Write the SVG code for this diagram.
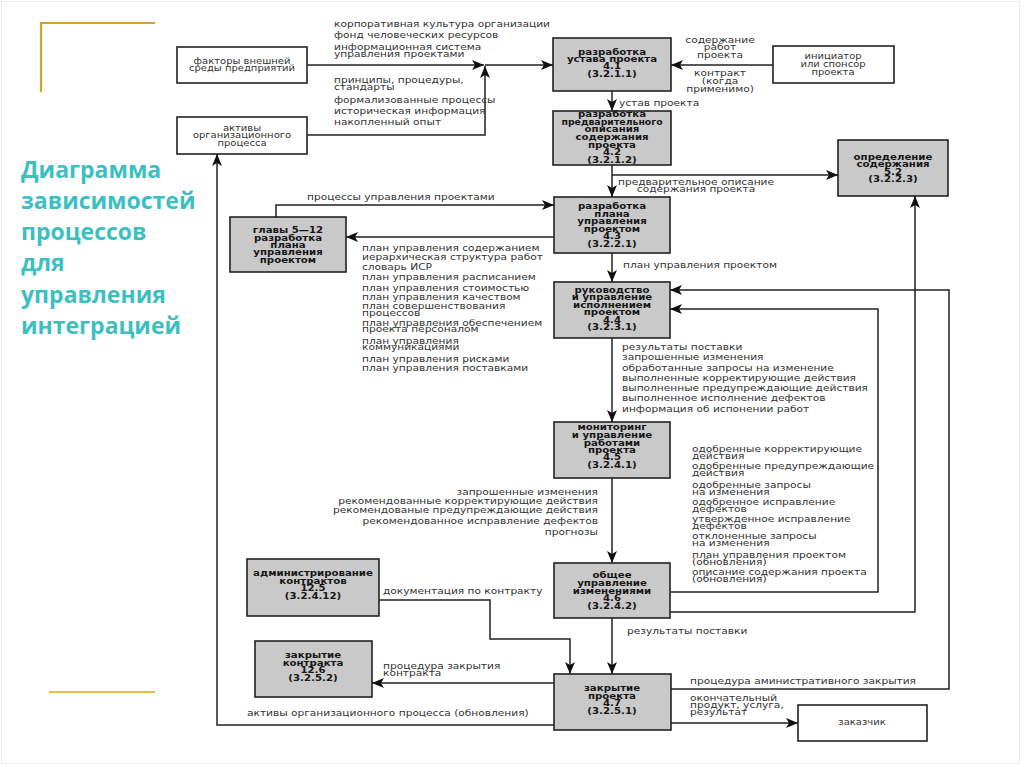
<svg xmlns="http://www.w3.org/2000/svg" width="1024" height="767" viewBox="0 0 1024 767">
<defs>
<marker id="ar" markerUnits="userSpaceOnUse" markerWidth="12" markerHeight="10" refX="12" refY="5" orient="auto">
<path d="M0,0 L12,5 L0,10 L3,5 z" fill="#111"/>
</marker>
<style>
.g rect{fill:#c9c9c9;stroke:#222;stroke-width:1.6}
.w rect{fill:#fff;stroke:#222;stroke-width:1.6}
.bt{font-family:"DejaVu Sans","Liberation Sans",sans-serif;font-weight:bold;font-size:8.5px;text-anchor:middle;fill:#161616}
.wt{font-family:"DejaVu Sans","Liberation Sans",sans-serif;font-size:8px;text-anchor:middle;fill:#333}
.lb{font-family:"DejaVu Sans","Liberation Sans",sans-serif;font-size:8.5px;fill:#333}
.lr{font-family:"DejaVu Sans","Liberation Sans",sans-serif;font-size:8.5px;fill:#333;text-anchor:end}
.lc{font-family:"DejaVu Sans","Liberation Sans",sans-serif;font-size:8.5px;fill:#333;text-anchor:middle}
#connectors path{fill:none;stroke:#222;stroke-width:1.5;marker-end:url(#ar)}
.title{font-family:"Open Sans","Liberation Sans",sans-serif;font-weight:bold;font-size:23px;fill:#3cbfc1}
</style>
</defs>
<rect x="0" y="0" width="1024" height="767" fill="#fff"/>
<rect x="1.5" y="1.5" width="1018" height="762" fill="none" stroke="#ececec" stroke-width="1"/>
<g id="decor">
<path d="M41,92 V23 H155" fill="none" stroke="#d6a12c" stroke-width="2.2"/>
<path d="M49,692 H155" fill="none" stroke="#e6bf3c" stroke-width="2.2"/>
</g>
<g id="title">
<text class="title" x="21" y="178">Диаграмма</text>
<text class="title" x="21" y="209">зависимостей</text>
<text class="title" x="21" y="240">процессов</text>
<text class="title" x="21" y="271">для</text>
<text class="title" x="21" y="303">управления</text>
<text class="title" x="21" y="334">интеграцией</text>
</g>
<g id="connectors">
<path d="M307,65 H484"/>
<path d="M485,65 H553"/>
<path d="M307,135 H485 V66"/>
<path d="M773,65 H671"/>
<path d="M612,91 V111"/>
<path d="M612,165 V197"/>
<path d="M612,175 H838"/>
<path d="M276,217 V205 H554"/>
<path d="M554,237 H346"/>
<path d="M612,253 V282"/>
<path d="M612,338 V422"/>
<path d="M671,689 H949 V290 H670"/>
<path d="M670,592 H878 V309 H670"/>
<path d="M670,612 H915 V196"/>
<path d="M612,478 V563"/>
<path d="M379,600 H490 V639 H570 V674"/>
<path d="M612,618 V674"/>
<path d="M554,683 H372"/>
<path d="M554,725 H217 V154"/>
<path d="M671,723 H798"/>
</g>
<g id="labels">
<text class="lb" transform="matrix(1.25 0 0 1 334 27)">корпоративная культура организации</text>
<text class="lb" transform="matrix(1.25 0 0 1 334 38)">фонд человеческих ресурсов</text>
<text class="lb" transform="matrix(1.25 0 0 1 334 50)">информационная система</text>
<text class="lb" transform="matrix(1.25 0 0 1 334 57)">управления проектами</text>
<text class="lb" transform="matrix(1.25 0 0 1 334 83)">принципы, процедуры,</text>
<text class="lb" transform="matrix(1.25 0 0 1 334 90)">стандарты</text>
<text class="lb" transform="matrix(1.25 0 0 1 334 103)">формализованные процессы</text>
<text class="lb" transform="matrix(1.25 0 0 1 334 114)">историческая информация</text>
<text class="lb" transform="matrix(1.25 0 0 1 334 125)">накопленный опыт</text>
<text class="lc" transform="matrix(1.25 0 0 1 720 43)">содержание</text>
<text class="lc" transform="matrix(1.25 0 0 1 720 50)">работ</text>
<text class="lc" transform="matrix(1.25 0 0 1 720 58)">проекта</text>
<text class="lc" transform="matrix(1.25 0 0 1 720 76)">контракт</text>
<text class="lc" transform="matrix(1.25 0 0 1 720 84)">(когда</text>
<text class="lc" transform="matrix(1.25 0 0 1 720 92)">применимо)</text>
<text class="lb" transform="matrix(1.25 0 0 1 619 106)">устав проекта</text>
<text class="lc" transform="matrix(1.25 0 0 1 696 185)">предварительное описание</text>
<text class="lc" transform="matrix(1.25 0 0 1 696 192)">содержания проекта</text>
<text class="lb" transform="matrix(1.25 0 0 1 307 200)">процессы управления проектами</text>
<text class="lb" transform="matrix(1.25 0 0 1 362 251)">план управления содержанием</text>
<text class="lb" transform="matrix(1.25 0 0 1 362 260)">иерархическая структура работ</text>
<text class="lb" transform="matrix(1.25 0 0 1 362 270)">словарь ИСР</text>
<text class="lb" transform="matrix(1.25 0 0 1 362 280)">план управления расписанием</text>
<text class="lb" transform="matrix(1.25 0 0 1 362 291)">план управления стоимостью</text>
<text class="lb" transform="matrix(1.25 0 0 1 362 300)">план управления качеством</text>
<text class="lb" transform="matrix(1.25 0 0 1 362 309)">план совершенствования</text>
<text class="lb" transform="matrix(1.25 0 0 1 362 316)">процессов</text>
<text class="lb" transform="matrix(1.25 0 0 1 362 326)">план управления обеспечением</text>
<text class="lb" transform="matrix(1.25 0 0 1 362 332)">проекта персоналом</text>
<text class="lb" transform="matrix(1.25 0 0 1 362 344)">план управления</text>
<text class="lb" transform="matrix(1.25 0 0 1 362 350)">коммуникациями</text>
<text class="lb" transform="matrix(1.25 0 0 1 362 362)">план управления рисками</text>
<text class="lb" transform="matrix(1.25 0 0 1 362 371)">план управления поставками</text>
<text class="lb" transform="matrix(1.25 0 0 1 623 268)">план управления проектом</text>
<text class="lb" transform="matrix(1.25 0 0 1 622 350)">результаты поставки</text>
<text class="lb" transform="matrix(1.25 0 0 1 622 360)">запрошенные изменения</text>
<text class="lb" transform="matrix(1.25 0 0 1 622 371)">обработанные запросы на изменение</text>
<text class="lb" transform="matrix(1.25 0 0 1 622 381)">выполненные корректирующие действия</text>
<text class="lb" transform="matrix(1.25 0 0 1 622 391)">выполненные предупреждающие действия</text>
<text class="lb" transform="matrix(1.25 0 0 1 622 401)">выполненное исполнение дефектов</text>
<text class="lb" transform="matrix(1.25 0 0 1 622 412)">информация об испонении работ</text>
<text class="lb" transform="matrix(1.25 0 0 1 692 452)">одобренные корректирующие</text>
<text class="lb" transform="matrix(1.25 0 0 1 692 459)">действия</text>
<text class="lb" transform="matrix(1.25 0 0 1 692 469)">одобренные  предупреждающие</text>
<text class="lb" transform="matrix(1.25 0 0 1 692 476)">действия</text>
<text class="lb" transform="matrix(1.25 0 0 1 692 488)">одобренные запросы</text>
<text class="lb" transform="matrix(1.25 0 0 1 692 495)">на изменения</text>
<text class="lb" transform="matrix(1.25 0 0 1 692 505)">одобренное исправление</text>
<text class="lb" transform="matrix(1.25 0 0 1 692 512)">дефектов</text>
<text class="lb" transform="matrix(1.25 0 0 1 692 522)">утвержденное исправление</text>
<text class="lb" transform="matrix(1.25 0 0 1 692 529)">дефектов</text>
<text class="lb" transform="matrix(1.25 0 0 1 692 539)">отклоненные запросы</text>
<text class="lb" transform="matrix(1.25 0 0 1 692 546)">на изменения</text>
<text class="lb" transform="matrix(1.25 0 0 1 692 558)">план управления проектом</text>
<text class="lb" transform="matrix(1.25 0 0 1 692 565)">(обновления)</text>
<text class="lb" transform="matrix(1.25 0 0 1 692 575)">описание содержания проекта</text>
<text class="lb" transform="matrix(1.25 0 0 1 692 582)">(обновления)</text>
<text class="lr" transform="matrix(1.25 0 0 1 598 495)">запрошенные изменения</text>
<text class="lr" transform="matrix(1.25 0 0 1 598 504)">рекомендованные корректирующие действия</text>
<text class="lr" transform="matrix(1.25 0 0 1 598 513)">рекомендованые предупреждающие действия</text>
<text class="lr" transform="matrix(1.25 0 0 1 598 524)">рекомендованное исправление дефектов</text>
<text class="lr" transform="matrix(1.25 0 0 1 598 535)">прогнозы</text>
<text class="lb" transform="matrix(1.25 0 0 1 383 594)">документация по контракту</text>
<text class="lb" transform="matrix(1.25 0 0 1 627 634)">результаты поставки</text>
<text class="lb" transform="matrix(1.25 0 0 1 383 669)">процедура закрытия</text>
<text class="lb" transform="matrix(1.25 0 0 1 383 676)">контракта</text>
<text class="lb" transform="matrix(1.25 0 0 1 690 684)">процедура аминистративного закрытия</text>
<text class="lb" transform="matrix(1.25 0 0 1 690 701)">окончательный</text>
<text class="lb" transform="matrix(1.25 0 0 1 690 708)">продукт, услуга,</text>
<text class="lb" transform="matrix(1.25 0 0 1 690 715)">результат</text>
<text class="lb" transform="matrix(1.25 0 0 1 247 716)">активы организационного процесса (обновления)</text>
</g>
<g id="n-factors" class="w">
<rect x="177" y="47" width="130" height="36"/>
<text class="wt" transform="matrix(1.25 0 0 1 242 64)">факторы внешней</text>
<text class="wt" transform="matrix(1.25 0 0 1 242 71)">среды предприятий</text>
</g>
<g id="n-assets" class="w">
<rect x="177" y="117" width="130" height="37"/>
<text class="wt" transform="matrix(1.25 0 0 1 242 131)">активы</text>
<text class="wt" transform="matrix(1.25 0 0 1 242 138)">организационного</text>
<text class="wt" transform="matrix(1.25 0 0 1 242 146)">процесса</text>
</g>
<g id="n-initiator" class="w">
<rect x="773" y="46" width="121" height="37"/>
<text class="wt" transform="matrix(1.25 0 0 1 833 59)">инициатор</text>
<text class="wt" transform="matrix(1.25 0 0 1 833 67)">или спонсор</text>
<text class="wt" transform="matrix(1.25 0 0 1 833 75)">проекта</text>
</g>
<g id="n-customer" class="w">
<rect x="798" y="705" width="129" height="36"/>
<text class="wt" transform="matrix(1.25 0 0 1 862 725)">заказчик</text>
</g>
<g id="n-4-1" class="g">
<rect x="553" y="38" width="118" height="53"/>
<text class="bt" transform="matrix(1.2 0 0 1 612 55)">разработка</text>
<text class="bt" transform="matrix(1.2 0 0 1 612 62)">устава проекта</text>
<text class="bt" transform="matrix(1.2 0 0 1 612 69)">4.1</text>
<text class="bt" transform="matrix(1.2 0 0 1 612 77)">(3.2.1.1)</text>
</g>
<g id="n-4-2" class="g">
<rect x="553" y="111" width="118" height="54"/>
<text class="bt" transform="matrix(1.2 0 0 1 612 117)">разработка</text>
<text class="bt" transform="matrix(1.1 0 0 1 612 125)">предварительного</text>
<text class="bt" transform="matrix(1.2 0 0 1 612 132)">описания</text>
<text class="bt" transform="matrix(1.2 0 0 1 612 140)">содержания</text>
<text class="bt" transform="matrix(1.2 0 0 1 612 148)">проекта</text>
<text class="bt" transform="matrix(1.2 0 0 1 612 155)">4.2</text>
<text class="bt" transform="matrix(1.2 0 0 1 612 163)">(3.2.1.2)</text>
</g>
<g id="n-5-2" class="g">
<rect x="838" y="140" width="110" height="56"/>
<text class="bt" transform="matrix(1.2 0 0 1 893 160)">определение</text>
<text class="bt" transform="matrix(1.2 0 0 1 893 167)">содержания</text>
<text class="bt" transform="matrix(1.2 0 0 1 893 175)">5.2</text>
<text class="bt" transform="matrix(1.2 0 0 1 893 182)">(3.2.2.3)</text>
</g>
<g id="n-4-3" class="g">
<rect x="554" y="197" width="116" height="56"/>
<text class="bt" transform="matrix(1.2 0 0 1 612 209)">разработка</text>
<text class="bt" transform="matrix(1.2 0 0 1 612 217)">плана</text>
<text class="bt" transform="matrix(1.2 0 0 1 612 224)">управления</text>
<text class="bt" transform="matrix(1.2 0 0 1 612 232)">проектом</text>
<text class="bt" transform="matrix(1.2 0 0 1 612 239)">4.3</text>
<text class="bt" transform="matrix(1.2 0 0 1 612 247)">(3.2.2.1)</text>
</g>
<g id="n-ch5-12" class="g">
<rect x="230" y="217" width="116" height="55"/>
<text class="bt" transform="matrix(1.2 0 0 1 288 233)">главы 5—12</text>
<text class="bt" transform="matrix(1.2 0 0 1 288 241)">разработка</text>
<text class="bt" transform="matrix(1.2 0 0 1 288 248)">плана</text>
<text class="bt" transform="matrix(1.2 0 0 1 288 255)">управления</text>
<text class="bt" transform="matrix(1.2 0 0 1 288 263)">проектом</text>
</g>
<g id="n-4-4" class="g">
<rect x="554" y="282" width="116" height="56"/>
<text class="bt" transform="matrix(1.2 0 0 1 612 293)">руководство</text>
<text class="bt" transform="matrix(1.2 0 0 1 612 300)">и управление</text>
<text class="bt" transform="matrix(1.2 0 0 1 612 308)">исполнением</text>
<text class="bt" transform="matrix(1.2 0 0 1 612 315)">проектом</text>
<text class="bt" transform="matrix(1.2 0 0 1 612 323)">4.4</text>
<text class="bt" transform="matrix(1.2 0 0 1 612 330)">(3.2.3.1)</text>
</g>
<g id="n-4-5" class="g">
<rect x="554" y="422" width="116" height="56"/>
<text class="bt" transform="matrix(1.2 0 0 1 612 430)">мониторинг</text>
<text class="bt" transform="matrix(1.2 0 0 1 612 438)">и управление</text>
<text class="bt" transform="matrix(1.2 0 0 1 612 446)">работами</text>
<text class="bt" transform="matrix(1.2 0 0 1 612 453)">проекта</text>
<text class="bt" transform="matrix(1.2 0 0 1 612 460)">4.5</text>
<text class="bt" transform="matrix(1.2 0 0 1 612 468)">(3.2.4.1)</text>
</g>
<g id="n-4-6" class="g">
<rect x="554" y="563" width="116" height="55"/>
<text class="bt" transform="matrix(1.2 0 0 1 612 578)">общее</text>
<text class="bt" transform="matrix(1.2 0 0 1 612 586)">управление</text>
<text class="bt" transform="matrix(1.2 0 0 1 612 594)">изменениями</text>
<text class="bt" transform="matrix(1.2 0 0 1 612 601)">4.6</text>
<text class="bt" transform="matrix(1.2 0 0 1 612 609)">(3.2.4.2)</text>
</g>
<g id="n-12-5" class="g">
<rect x="247" y="559" width="132" height="57"/>
<text class="bt" transform="matrix(1.2 0 0 1 313 576)">администрирование</text>
<text class="bt" transform="matrix(1.2 0 0 1 313 584)">контрактов</text>
<text class="bt" transform="matrix(1.2 0 0 1 313 591)">12.5</text>
<text class="bt" transform="matrix(1.2 0 0 1 313 599)">(3.2.4.12)</text>
</g>
<g id="n-12-6" class="g">
<rect x="255" y="641" width="117" height="56"/>
<text class="bt" transform="matrix(1.2 0 0 1 313 658)">закрытие</text>
<text class="bt" transform="matrix(1.2 0 0 1 313 666)">контракта</text>
<text class="bt" transform="matrix(1.2 0 0 1 313 673)">12.6</text>
<text class="bt" transform="matrix(1.2 0 0 1 313 681)">(3.2.5.2)</text>
</g>
<g id="n-4-7" class="g">
<rect x="554" y="674" width="117" height="56"/>
<text class="bt" transform="matrix(1.2 0 0 1 612 691)">закрытие</text>
<text class="bt" transform="matrix(1.2 0 0 1 612 699)">проекта</text>
<text class="bt" transform="matrix(1.2 0 0 1 612 706)">4.7</text>
<text class="bt" transform="matrix(1.2 0 0 1 612 714)">(3.2.5.1)</text>
</g>
</svg>
